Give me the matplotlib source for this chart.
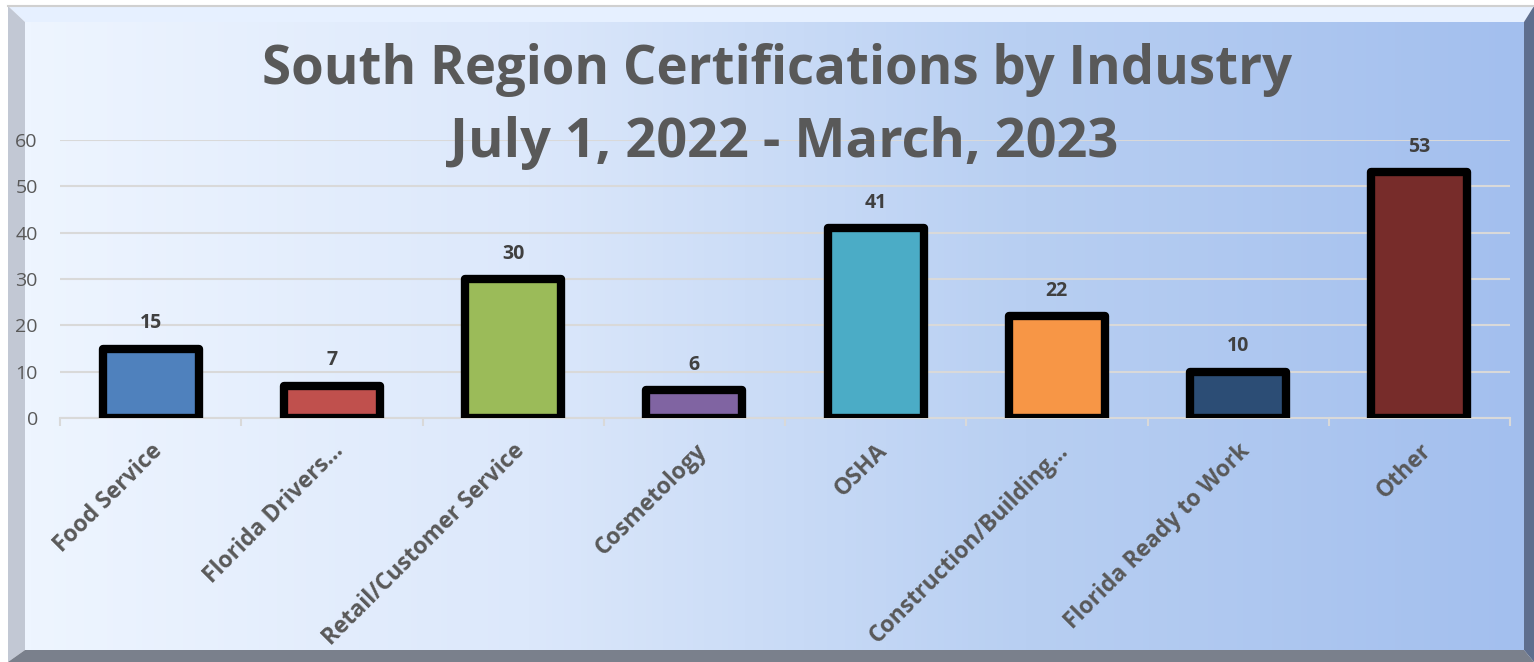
import matplotlib
matplotlib.use('Agg')
import matplotlib.pyplot as plt
import numpy as np
from matplotlib.patches import Polygon
from matplotlib.colors import LinearSegmentedColormap

categories = ['Food Service', 'Florida Drivers...', 'Retail/Customer Service', 'Cosmetology',
              'OSHA', 'Construction/Building...', 'Florida Ready to Work', 'Other']
values = [15, 7, 30, 6, 41, 22, 10, 53]
bar_colors = ['#4f81bd', '#c0504d', '#9bbb59', '#8064a2',
              '#4bacc6', '#f79646', '#2c4d75', '#772c2a']
title_lines = ['South Region Certifications by Industry', 'July 1, 2022 - March, 2023']

W, H = 1534, 662
fig = plt.figure(figsize=(W / 100, H / 100), dpi=100)
fig.patch.set_facecolor('white')

# background with bevel frame (pixel coords, y down)
bg = fig.add_axes([0, 0, 1, 1])
bg.set_xlim(0, W)
bg.set_ylim(H, 0)
bg.axis('off')
grad = np.linspace(0, 1, 256)[None, :]
cmap = LinearSegmentedColormap.from_list('bg', ['#eef5ff', '#dce8fb', '#b8cff2', '#a3bfee'])
bg.imshow(grad, cmap=cmap, extent=[25, 1524, 650, 22], aspect='auto', zorder=0)
# top strip
bg.add_patch(Polygon([[8, 6], [1534, 6], [1524, 22], [25, 22]], closed=True,
                     facecolor='#e6f0ff', edgecolor='none', zorder=1))
bg.plot([8, 1534], [6, 6], color='#d0d0d0', lw=1.5, zorder=2)
# left bevel
bg.add_patch(Polygon([[8, 6], [25, 22], [25, 650], [8, 662]], closed=True,
                     facecolor='#c2c8d4', edgecolor='none', zorder=1))
# bottom bevel
bg.add_patch(Polygon([[8, 662], [25, 650], [1524, 650], [1534, 662]], closed=True,
                     facecolor='#7a808c', edgecolor='none', zorder=1))
# right bevel
bg.add_patch(Polygon([[1534, 6], [1534, 662], [1524, 650], [1524, 22]], closed=True,
                     facecolor='#5e6e8e', edgecolor='none', zorder=1))

ax = fig.add_axes([60 / W, 244 / H, 1450 / W, 278 / H])
ax.patch.set_alpha(0)
x = np.arange(len(categories))
bars = ax.bar(x, values, width=0.53, color=bar_colors, edgecolor='black',
              linewidth=6, joinstyle='round', zorder=3)
ax.set_xlim(-0.5, len(categories) - 0.5)
ax.set_ylim(0, 60)
ax.set_yticks(range(0, 61, 10))
ax.grid(axis='y', color='#d9d9d9', linewidth=1.5, zorder=0)
for s in ['top', 'right', 'left']:
    ax.spines[s].set_visible(False)
ax.spines['bottom'].set_color('#d9d9d9')
ax.spines['bottom'].set_linewidth(1.5)
ax.tick_params(axis='y', length=0, pad=16, labelsize=14, labelcolor='#595959')
ax.set_xticks(np.arange(-0.5, len(categories), 1.0), minor=False)
ax.set_xticklabels([])
ax.tick_params(axis='x', which='major', length=6, width=1.5, color='#d9d9d9')
ax.set_xticks(x, minor=True)
ax.set_xticklabels(categories, minor=True, rotation=45, ha='right', va='top',
                   rotation_mode='anchor', fontsize=16.5, color='#595959',
                   family='Open Sans', fontweight='bold')
ax.tick_params(axis='x', which='minor', length=0, pad=15)
for lbl in ax.get_yticklabels():
    lbl.set_family('Open Sans')

for xi, v in zip(x, values):
    ax.annotate(str(v), (xi, v), xytext=(0, 11), textcoords='offset points',
                ha='center', va='bottom', fontsize=14, fontweight='bold',
                color='#404040', family='Open Sans')

fig.text(777 / W, 1 - 70 / H, title_lines[0], ha='center', va='center',
         fontsize=38, fontweight='bold', color='#595959', family='Open Sans')
fig.text(784 / W, 1 - 143 / H, title_lines[1], ha='center', va='center',
         fontsize=39, fontweight='bold', color='#595959', family='Open Sans')

fig.savefig('out.png', dpi=100)
